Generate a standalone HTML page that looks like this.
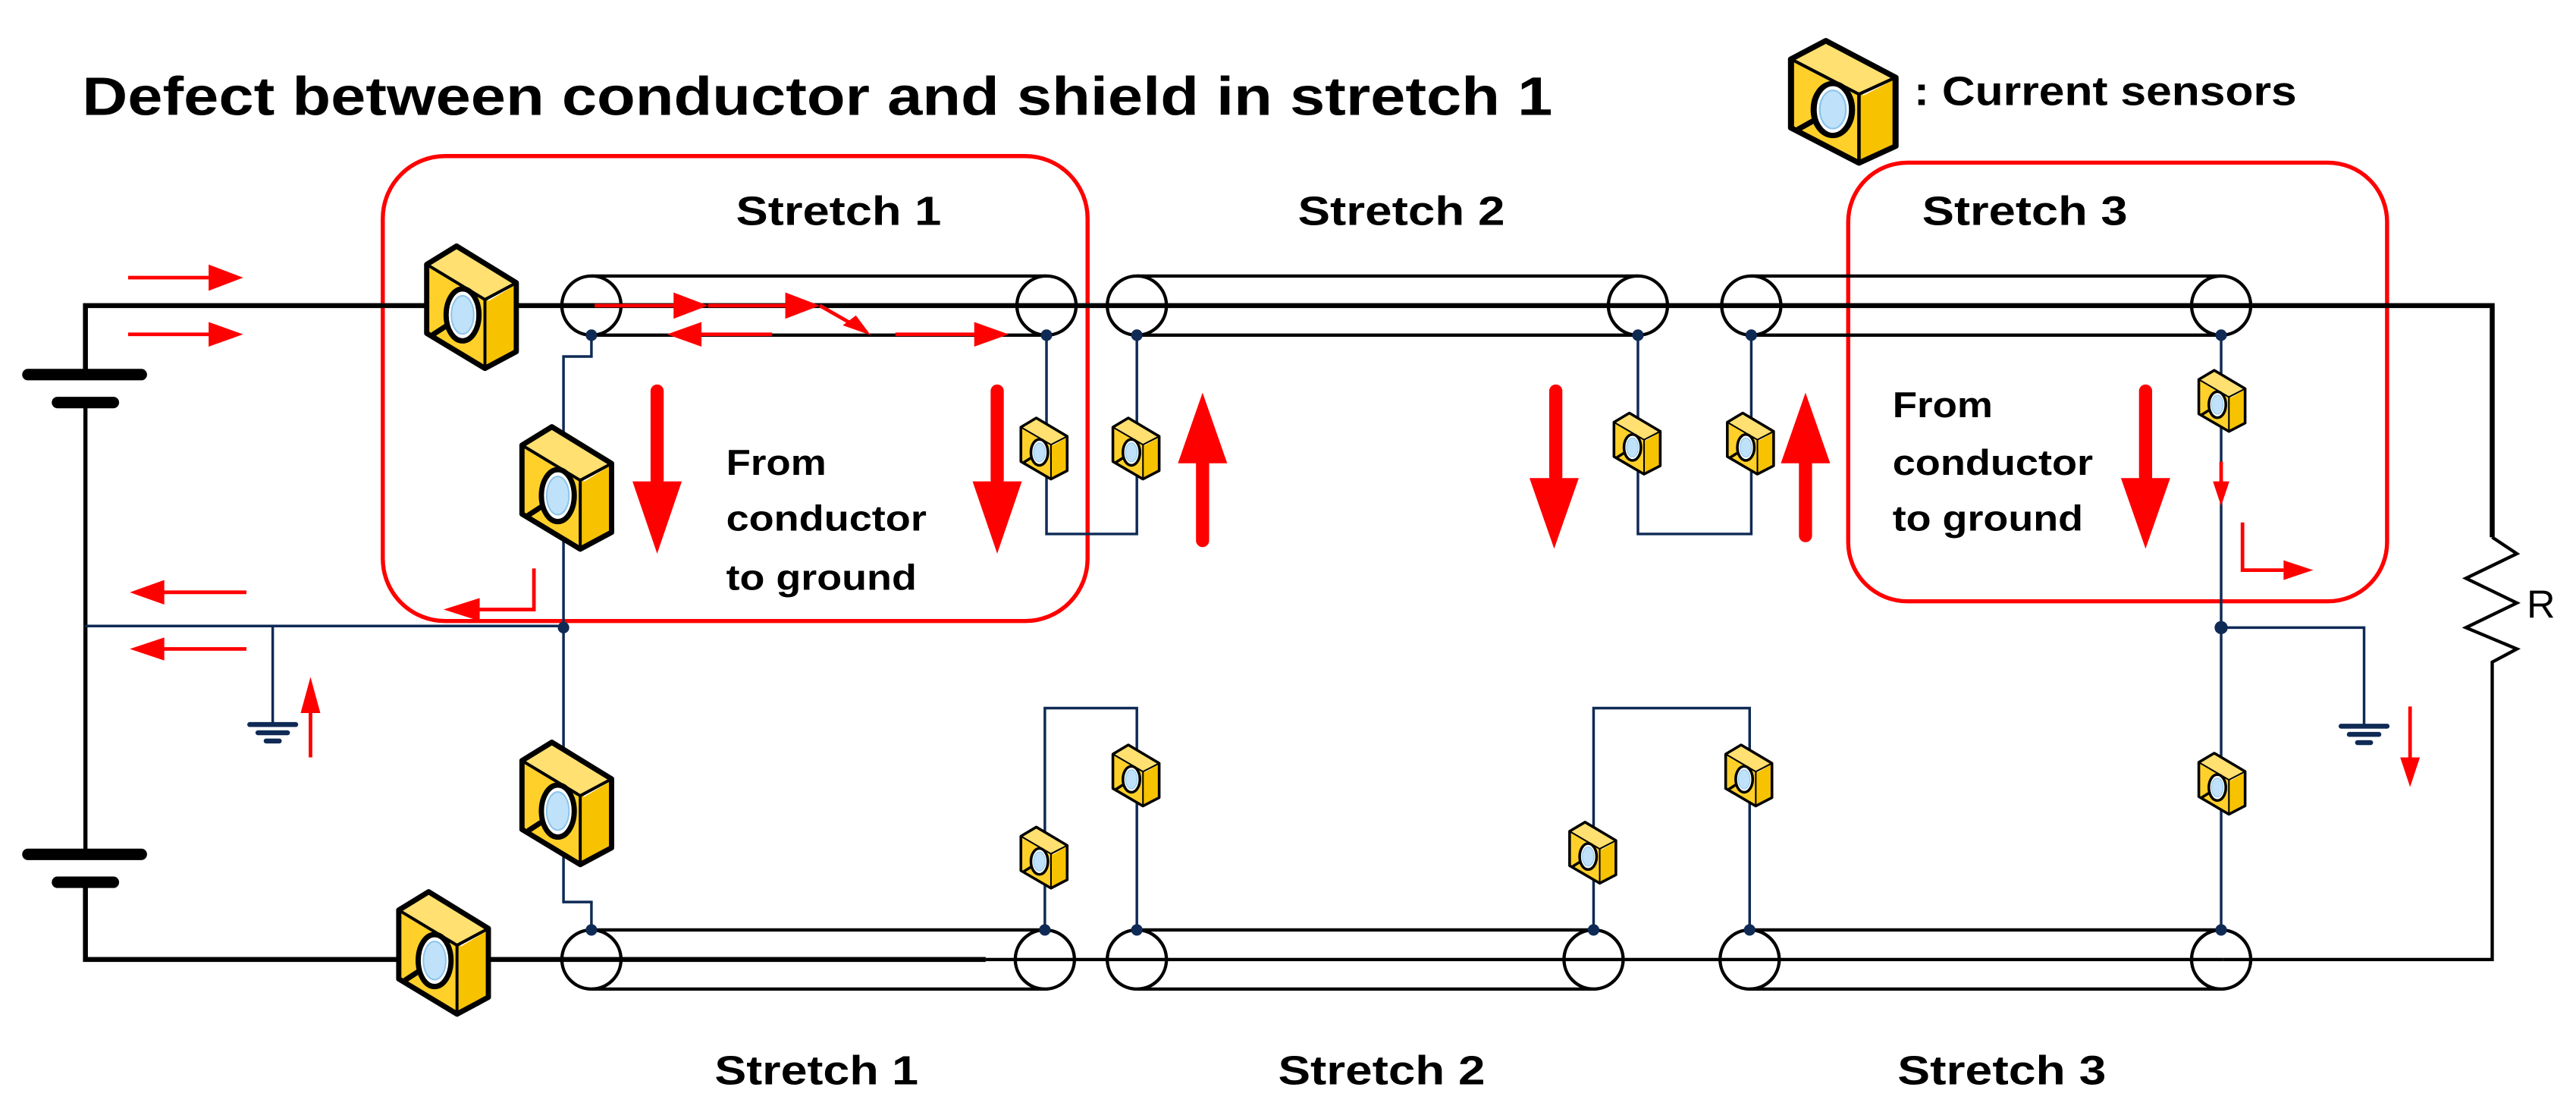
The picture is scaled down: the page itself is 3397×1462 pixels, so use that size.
<!DOCTYPE html>
<html><head><meta charset="utf-8"><style>
html,body{margin:0;padding:0;background:#fff;}
svg{display:block;}
text{font-family:"Liberation Sans",sans-serif;font-weight:bold;fill:#000;}
</style></head><body>
<svg width="3397" height="1462" viewBox="0 0 1568 675" preserveAspectRatio="none" xmlns="http://www.w3.org/2000/svg">
<defs>
<symbol id="s" viewBox="-3 -3 66 86" preserveAspectRatio="none">
<polygon points="20,0 60,24 39,35 0,12" fill="#ffe070"/>
<polygon points="0,12 39,35 39,80 0,57" fill="#ffd02a"/>
<polygon points="39,35 60,24 60,69 39,80" fill="#f7c200"/>
<line x1="41" y1="35" x2="58" y2="25" stroke="#fff" stroke-width="2"/>
<line x1="4" y1="58" x2="15" y2="51" stroke="#000" stroke-width="3.5"/>
<ellipse cx="24" cy="45" rx="11" ry="17" fill="#fff" stroke="#000" stroke-width="3.5"/>
<ellipse cx="24" cy="45" rx="7.5" ry="12.5" fill="#bfe2fa" stroke="#8cc4ea" stroke-width="1"/>
<polygon points="20,0 60,24 60,69 39,80 0,57 0,12" fill="none" stroke="#000" stroke-width="3.5" stroke-linejoin="round"/>
<polyline points="0,12 39,35 60,24" fill="none" stroke="#000" stroke-width="2"/>
<line x1="39" y1="35" x2="39" y2="80" stroke="#000" stroke-width="2"/>
</symbol>
</defs>

<text x="50" y="70" font-size="33" textLength="895" lengthAdjust="spacingAndGlyphs">Defect between conductor and shield in stretch 1</text>
<text x="1165" y="64" font-size="25" textLength="233" lengthAdjust="spacingAndGlyphs">: Current sensors</text>
<use href="#s" x="1087" y="22" width="70" height="80"/>

<rect x="233" y="95" width="429" height="283" rx="38" fill="none" stroke="#f00" stroke-width="2.5"/>
<rect x="1125" y="99" width="328" height="267" rx="36" fill="none" stroke="#f00" stroke-width="2.5"/>

<text x="448" y="137" font-size="25" textLength="125" lengthAdjust="spacingAndGlyphs">Stretch 1</text>
<text x="790" y="137" font-size="25" textLength="126" lengthAdjust="spacingAndGlyphs">Stretch 2</text>
<text x="1170" y="137" font-size="25" textLength="125" lengthAdjust="spacingAndGlyphs">Stretch 3</text>
<text x="435" y="660" font-size="25" textLength="124" lengthAdjust="spacingAndGlyphs">Stretch 1</text>
<text x="778" y="660" font-size="25" textLength="126" lengthAdjust="spacingAndGlyphs">Stretch 2</text>
<text x="1155" y="660" font-size="25" textLength="127" lengthAdjust="spacingAndGlyphs">Stretch 3</text>

<text x="442" y="289" font-size="22" textLength="61" lengthAdjust="spacingAndGlyphs">From</text>
<text x="442" y="323" font-size="22" textLength="122" lengthAdjust="spacingAndGlyphs">conductor</text>
<text x="442" y="359" font-size="22" textLength="116" lengthAdjust="spacingAndGlyphs">to ground</text>
<text x="1152" y="254" font-size="22" textLength="61" lengthAdjust="spacingAndGlyphs">From</text>
<text x="1152" y="289" font-size="22" textLength="122" lengthAdjust="spacingAndGlyphs">conductor</text>
<text x="1152" y="323" font-size="22" textLength="116" lengthAdjust="spacingAndGlyphs">to ground</text>
<text x="1538" y="376" font-size="24" style="font-weight:normal">R</text>

<g stroke="#000" fill="none">
<polyline points="52,228 52,186 1517,186 1517,327" stroke-width="3"/>
<polyline points="1517,327 1532,337 1501,352 1532,367 1501,382 1532,395 1517,403 1517,584 1353,584" stroke-width="2"/>
<line x1="52" y1="245" x2="52" y2="520" stroke-width="2.5"/>
<polyline points="52,537 52,584 600,584" stroke-width="3"/>
<line x1="600" y1="584" x2="1353" y2="584" stroke-width="2"/>
<line x1="17" y1="228" x2="86" y2="228" stroke-width="7" stroke-linecap="round"/>
<line x1="35" y1="245" x2="69" y2="245" stroke-width="7" stroke-linecap="round"/>
<line x1="17" y1="520" x2="86" y2="520" stroke-width="7" stroke-linecap="round"/>
<line x1="35" y1="537" x2="69" y2="537" stroke-width="7" stroke-linecap="round"/>
</g>

<g stroke="#000" stroke-width="2" fill="none">
<line x1="360" y1="168" x2="637" y2="168"/><line x1="360" y1="204" x2="637" y2="204"/>
<ellipse cx="360" cy="186" rx="18" ry="18"/><ellipse cx="637" cy="186" rx="18" ry="18"/>
<line x1="692" y1="168" x2="997" y2="168"/><line x1="692" y1="204" x2="997" y2="204"/>
<ellipse cx="692" cy="186" rx="18" ry="18"/><ellipse cx="997" cy="186" rx="18" ry="18"/>
<line x1="1066" y1="168" x2="1352" y2="168"/><line x1="1066" y1="204" x2="1352" y2="204"/>
<ellipse cx="1066" cy="186" rx="18" ry="18"/><ellipse cx="1352" cy="186" rx="18" ry="18"/>
<line x1="360" y1="566" x2="636" y2="566"/><line x1="360" y1="602" x2="636" y2="602"/>
<ellipse cx="360" cy="584" rx="18" ry="18"/><ellipse cx="636" cy="584" rx="18" ry="18"/>
<line x1="692" y1="566" x2="970" y2="566"/><line x1="692" y1="602" x2="970" y2="602"/>
<ellipse cx="692" cy="584" rx="18" ry="18"/><ellipse cx="970" cy="584" rx="18" ry="18"/>
<line x1="1065" y1="566" x2="1352" y2="566"/><line x1="1065" y1="602" x2="1352" y2="602"/>
<ellipse cx="1065" cy="584" rx="18" ry="18"/><ellipse cx="1352" cy="584" rx="18" ry="18"/>
</g>

<g stroke="#0f2a55" stroke-width="1.6" fill="none">
<polyline points="360,204 360,217 343,217 343,549 360,549 360,566"/>
<polyline points="52,381 343,381"/>
<polyline points="166,381 166,441"/>
<polyline points="637,204 637,325 692,325 692,204"/>
<polyline points="997,204 997,325 1066,325 1066,204"/>
<polyline points="1352,204 1352,566"/>
<polyline points="1352,382 1439,382 1439,442"/>
<polyline points="636,566 636,431 692,431 692,566"/>
<polyline points="970,566 970,431 1065,431 1065,566"/>
</g>
<g stroke="#0f2a55" stroke-linecap="round">
<line x1="152" y1="441" x2="180" y2="441" stroke-width="3"/>
<line x1="157" y1="446" x2="175" y2="446" stroke-width="3"/>
<line x1="162" y1="451" x2="170" y2="451" stroke-width="3"/>
<line x1="1425" y1="442" x2="1453" y2="442" stroke-width="3"/>
<line x1="1430" y1="447" x2="1448" y2="447" stroke-width="3"/>
<line x1="1435" y1="452" x2="1443" y2="452" stroke-width="3"/>
</g>
<g fill="#0f2a55">
<circle cx="360" cy="204" r="3.5"/><circle cx="637" cy="204" r="3.5"/><circle cx="692" cy="204" r="3.5"/>
<circle cx="997" cy="204" r="3.5"/><circle cx="1066" cy="204" r="3.5"/><circle cx="1352" cy="204" r="3.5"/>
<circle cx="343" cy="382" r="3.5"/><circle cx="1352" cy="382" r="4"/>
<circle cx="360" cy="566" r="3.5"/><circle cx="636" cy="566" r="3.5"/><circle cx="692" cy="566" r="3.5"/>
<circle cx="970" cy="566" r="3.5"/><circle cx="1065" cy="566" r="3.5"/><circle cx="1352" cy="566" r="3.5"/>
</g>

<use href="#s" x="257" y="147" width="60" height="80"/>
<use href="#s" x="315" y="257" width="60" height="80"/>
<use href="#s" x="315" y="449" width="60" height="80"/>
<use href="#s" x="240" y="540" width="60" height="80"/>
<use href="#s" x="620" y="253" width="31" height="40"/>
<use href="#s" x="676" y="253" width="31" height="40"/>
<use href="#s" x="981" y="250" width="31" height="40"/>
<use href="#s" x="1050" y="250" width="31" height="40"/>
<use href="#s" x="1337" y="224" width="31" height="40"/>
<use href="#s" x="1337" y="457" width="31" height="40"/>
<use href="#s" x="620" y="502" width="31" height="40"/>
<use href="#s" x="676" y="452" width="31" height="40"/>
<use href="#s" x="954" y="499" width="31" height="40"/>
<use href="#s" x="1049" y="452" width="31" height="40"/>

<g stroke="#f00" stroke-width="2.2" fill="none">
<line x1="78" y1="169" x2="128" y2="169"/><line x1="78" y1="203.5" x2="128" y2="203.5"/>
<line x1="98" y1="360.5" x2="150" y2="360.5"/><line x1="98" y1="395" x2="150" y2="395"/>
<line x1="189" y1="461" x2="189" y2="432"/>
<line x1="362" y1="186" x2="412" y2="186"/><line x1="431" y1="186" x2="480" y2="186"/>
<line x1="499" y1="186" x2="520" y2="198"/>
<line x1="545" y1="203.5" x2="594" y2="203.5"/>
<line x1="470" y1="203.5" x2="425" y2="203.5"/>
<polyline points="325,346 325,371 290,371"/>
<line x1="1352" y1="281" x2="1352" y2="295"/>
<polyline points="1365,318 1365,347 1390,347"/>
<line x1="1467" y1="430" x2="1467" y2="462"/>
</g>
<g fill="#f00">
<polygon points="148,169 127,161 127,177"/><polygon points="148,203.5 127,196 127,211"/>
<polygon points="79,360.5 100,353 100,368"/><polygon points="79,395 100,388 100,402"/>
<polygon points="189,412 183,434 195,434"/>
<polygon points="431,186 410,178 410,194"/><polygon points="499,186 478,178 478,194"/>
<polygon points="530,204 513,198 521,192"/>
<polygon points="614,203.5 593,196 593,211"/>
<polygon points="406,203.5 427,196 427,211"/>
<polygon points="270,371 292,364 292,378"/>
<polygon points="1352,308 1347,293 1357,293"/>
<polygon points="1408,347 1390,341 1390,353"/>
<polygon points="1467,479 1461,461 1473,461"/>
<rect x="396" y="234" width="8" height="62" rx="4"/><polygon points="385,293 415,293 400,337"/>
<rect x="603" y="234" width="8" height="62" rx="4"/><polygon points="592,293 622,293 607,337"/>
<rect x="728" y="278" width="8" height="55" rx="4"/><polygon points="717,282 747,282 732,239"/>
<rect x="943" y="234" width="8" height="60" rx="4"/><polygon points="931,291 961,291 946,334"/>
<rect x="1095" y="278" width="8" height="52" rx="4"/><polygon points="1084,282 1114,282 1099,239"/>
<rect x="1302" y="234" width="8" height="60" rx="4"/><polygon points="1291,291 1321,291 1306,334"/>
</g>
</svg>
</body></html>
